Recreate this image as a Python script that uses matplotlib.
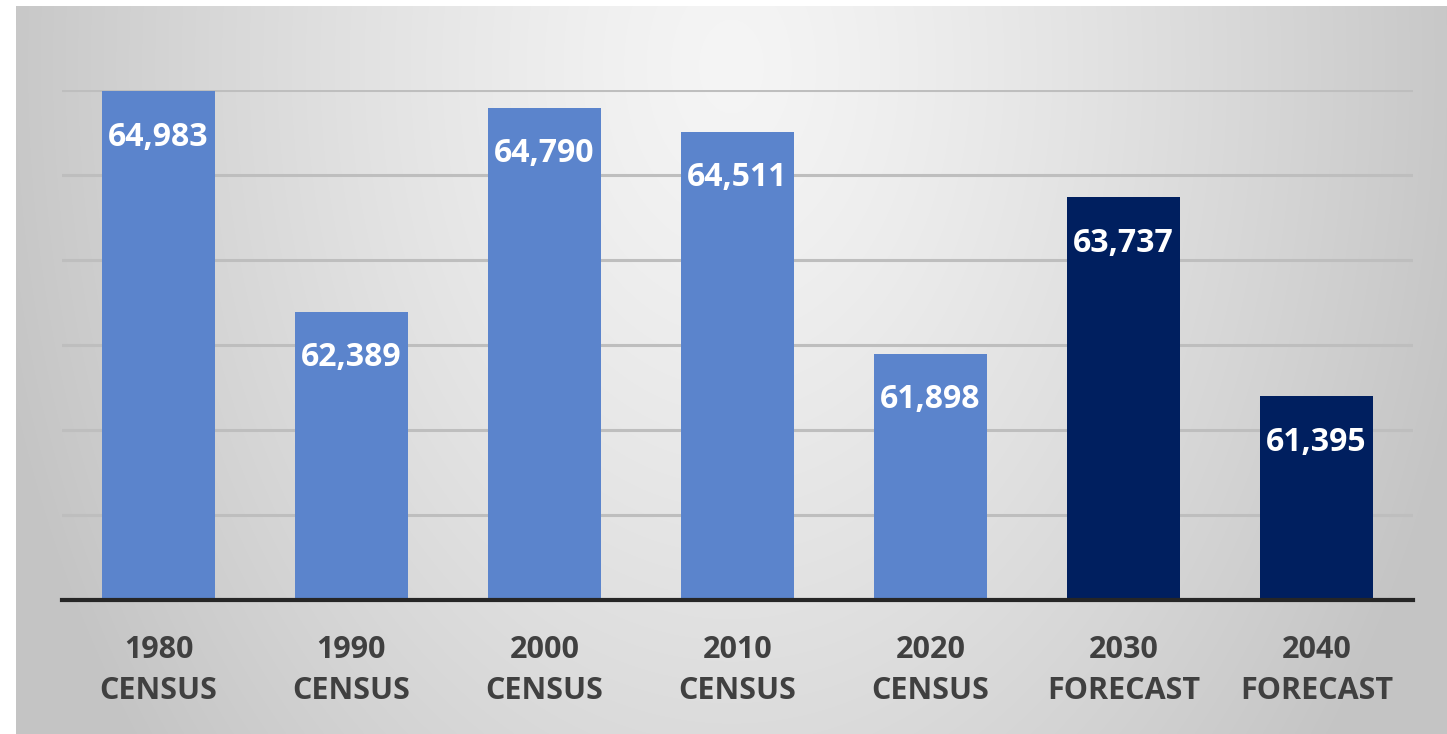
import numpy as np
import matplotlib.pyplot as plt

years = ["1980", "1990", "2000", "2010", "2020", "2030", "2040"]
kinds = ["CENSUS", "CENSUS", "CENSUS", "CENSUS", "CENSUS", "FORECAST", "FORECAST"]
population = [64983, 62389, 64790, 64511, 61898, 63737, 61395]

census_color = "#5B84CC"
forecast_color = "#001F5F"
bar_colors = [forecast_color if k == "FORECAST" else census_color for k in kinds]

W, H = 1447, 734
fig = plt.figure(figsize=(W / 100, H / 100), dpi=100, facecolor="white")

# soft gray radial backdrop behind the chart
bg = fig.add_axes([16 / W, 0, 1 - 16 / W, 1 - 6 / H])
bg.set_axis_off()
yy, xx = np.mgrid[0:728, 0:1431]
r = np.sqrt(((xx - 715) / 760.0) ** 2 + ((yy - 60) / 1100.0) ** 2)
r = np.clip(r, 0, 1)
shade = 0.96 - 0.19 * r ** 1.3
bg.imshow(np.dstack([shade] * 3), aspect="auto", extent=[0, 1, 0, 1], origin="upper")
bg.set_xlim(0, 1)
bg.set_ylim(0, 1)

ax = fig.add_axes([62 / W, 1 - 600 / H, (1413 - 62) / W, (600 - 90) / H])
ax.patch.set_alpha(0)

x = np.arange(len(years))
ax.bar(x, population, width=0.59, color=bar_colors, zorder=3)

ax.set_ylim(59000, 65000)
ax.set_xlim(-0.5, len(years) - 0.5)
ax.set_yticks(np.arange(60000, 65001, 1000))
ax.yaxis.grid(True, color="#BEBEBE", linewidth=2.2, zorder=0)
ax.tick_params(axis="y", left=False, labelleft=False)

for side in ["top", "right", "left"]:
    ax.spines[side].set_visible(False)
ax.spines["bottom"].set_color("#262626")
ax.spines["bottom"].set_linewidth(3)
ax.spines["bottom"].set_zorder(4)

ax.set_xticks(x)
ax.set_xticklabels([f"{y}\n{k}" for y, k in zip(years, kinds)],
                   fontfamily="Open Sans", fontweight="bold", fontsize=22,
                   color="#404040", linespacing=1.5)
ax.tick_params(axis="x", length=0, pad=25)

for xi, v in zip(x, population):
    ax.annotate(f"{v:,}", (xi, v), xytext=(0, -33), textcoords="offset points",
                ha="center", va="center", color="white",
                fontfamily="Open Sans", fontweight="bold", fontsize=23, zorder=5)

fig.savefig("out.png", dpi=100, facecolor="white")
